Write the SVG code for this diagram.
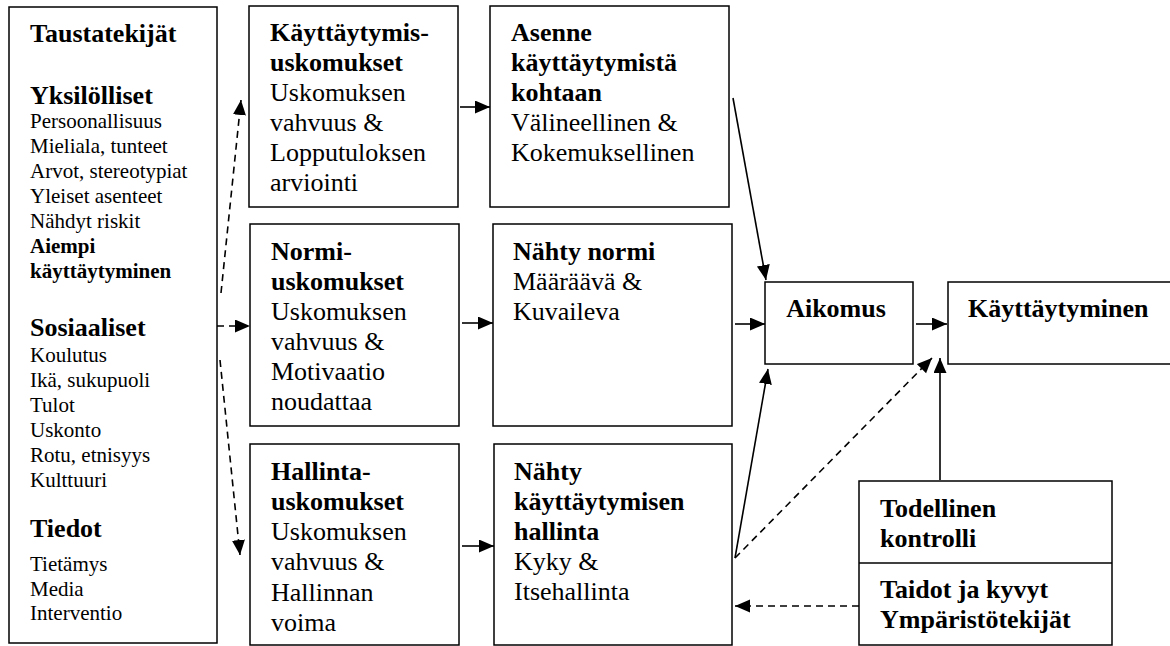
<svg xmlns="http://www.w3.org/2000/svg" width="1170" height="646" viewBox="0 0 1170 646">
<defs>
<style>
.box{fill:#fff;stroke:#000;stroke-width:1.5}
text{font-family:'Liberation Serif','Times New Roman',Tinos,'DejaVu Serif',serif;fill:#000}
.h{font-size:26px;font-weight:bold}
.t{font-size:26px}
.s{font-size:21px}
.sb{font-size:21px;font-weight:bold}
.c{fill:none;stroke:#000;stroke-width:1.6;marker-end:url(#ah)}
.d{stroke-dasharray:7 5}
</style>
<marker id="ah" markerUnits="userSpaceOnUse" markerWidth="16" markerHeight="14" refX="15" refY="6.5" orient="auto">
<path d="M0,0 L15,6.5 L0,13 z" fill="#000"/>
</marker>
</defs>
<rect width="1170" height="646" fill="#fff"/>

<g id="taustatekijat" font-family="Liberation Serif, serif">
<rect class="box" x="9" y="7" width="208" height="636"/>
<text class="h" x="30" y="42">Taustatekijät</text>
<text class="h" x="30" y="104">Yksilölliset</text>
<text class="s" x="30" y="128">Persoonallisuus</text>
<text class="s" x="30" y="153">Mieliala, tunteet</text>
<text class="s" x="30" y="178">Arvot, stereotypiat</text>
<text class="s" x="30" y="203">Yleiset asenteet</text>
<text class="s" x="30" y="228">Nähdyt riskit</text>
<text class="sb" x="30" y="253">Aiempi</text>
<text class="sb" x="30" y="278">käyttäytyminen</text>
<text class="h" x="30" y="336">Sosiaaliset</text>
<text class="s" x="30" y="362">Koulutus</text>
<text class="s" x="30" y="387">Ikä, sukupuoli</text>
<text class="s" x="30" y="412">Tulot</text>
<text class="s" x="30" y="437">Uskonto</text>
<text class="s" x="30" y="462">Rotu, etnisyys</text>
<text class="s" x="30" y="487">Kulttuuri</text>
<text class="h" x="30" y="537">Tiedot</text>
<text class="s" x="30" y="571">Tietämys</text>
<text class="s" x="30" y="596">Media</text>
<text class="s" x="30" y="620">Interventio</text>
</g>

<g id="kayttaytymisuskomukset">
<rect class="box" x="249" y="6" width="209" height="201"/>
<text class="h" x="270" y="41">Käyttäytymis-</text>
<text class="h" x="270" y="71">uskomukset</text>
<text class="t" x="270" y="101">Uskomuksen</text>
<text class="t" x="270" y="131">vahvuus &amp;</text>
<text class="t" x="270" y="161">Lopputuloksen</text>
<text class="t" x="270" y="191">arviointi</text>
</g>

<g id="asenne">
<rect class="box" x="490" y="6" width="239" height="201"/>
<text class="h" x="511" y="41">Asenne</text>
<text class="h" x="511" y="71">käyttäytymistä</text>
<text class="h" x="511" y="101">kohtaan</text>
<text class="t" x="511" y="131">Välineellinen &amp;</text>
<text class="t" x="511" y="161">Kokemuksellinen</text>
</g>

<g id="normiuskomukset">
<rect class="box" x="250" y="224" width="209" height="202"/>
<text class="h" x="271" y="260">Normi-</text>
<text class="h" x="271" y="290">uskomukset</text>
<text class="t" x="271" y="320">Uskomuksen</text>
<text class="t" x="271" y="350">vahvuus &amp;</text>
<text class="t" x="271" y="380">Motivaatio</text>
<text class="t" x="271" y="410">noudattaa</text>
</g>

<g id="nahty-normi">
<rect class="box" x="493" y="224" width="239" height="202"/>
<text class="h" x="513" y="260">Nähty normi</text>
<text class="t" x="513" y="290">Määräävä &amp;</text>
<text class="t" x="513" y="320">Kuvaileva</text>
</g>

<g id="hallintauskomukset">
<rect class="box" x="250" y="444" width="209" height="201"/>
<text class="h" x="271" y="480">Hallinta-</text>
<text class="h" x="271" y="510">uskomukset</text>
<text class="t" x="271" y="540">Uskomuksen</text>
<text class="t" x="271" y="570">vahvuus &amp;</text>
<text class="t" x="271" y="601">Hallinnan</text>
<text class="t" x="271" y="631">voima</text>
</g>

<g id="nahty-hallinta">
<rect class="box" x="494" y="444" width="238" height="201"/>
<text class="h" x="514" y="480">Nähty</text>
<text class="h" x="514" y="510">käyttäytymisen</text>
<text class="h" x="514" y="540">hallinta</text>
<text class="t" x="514" y="570">Kyky &amp;</text>
<text class="t" x="514" y="600">Itsehallinta</text>
</g>

<g id="aikomus">
<rect class="box" x="765" y="282" width="148" height="82"/>
<text class="h" x="836" y="317" text-anchor="middle">Aikomus</text>
</g>

<g id="kayttaytyminen">
<rect class="box" x="948" y="282" width="230" height="82"/>
<text class="h" x="968" y="317">Käyttäytyminen</text>
</g>

<g id="todellinen-kontrolli">
<rect class="box" x="859" y="481" width="253" height="164"/>
<line x1="859" y1="563" x2="1112" y2="563" stroke="#000" stroke-width="1.5"/>
<text class="h" x="880" y="517">Todellinen</text>
<text class="h" x="880" y="547">kontrolli</text>
<text class="h" x="880" y="598">Taidot ja kyvyt</text>
<text class="h" x="880" y="628">Ympäristötekijät</text>
</g>

<g id="connectors">
<line class="c d" x1="221" y1="293" x2="241" y2="100"/>
<line class="c d" x1="217" y1="326" x2="250" y2="326"/>
<line class="c d" x1="220" y1="360" x2="240" y2="555"/>
<line class="c" x1="460" y1="107" x2="490" y2="107"/>
<line class="c" x1="462" y1="323" x2="493" y2="323"/>
<line class="c" x1="462" y1="546" x2="494" y2="546"/>
<line class="c" x1="735" y1="324" x2="765" y2="324"/>
<line class="c" x1="916" y1="324" x2="947" y2="324"/>
<line class="c" x1="733" y1="98" x2="766" y2="280"/>
<line class="c" x1="735" y1="558" x2="768" y2="369"/>
<line class="c d" x1="735" y1="558" x2="932" y2="358"/>
<line class="c" x1="940" y1="480" x2="940" y2="358"/>
<line class="c d" x1="859" y1="606" x2="735" y2="606"/>
</g>
</svg>
